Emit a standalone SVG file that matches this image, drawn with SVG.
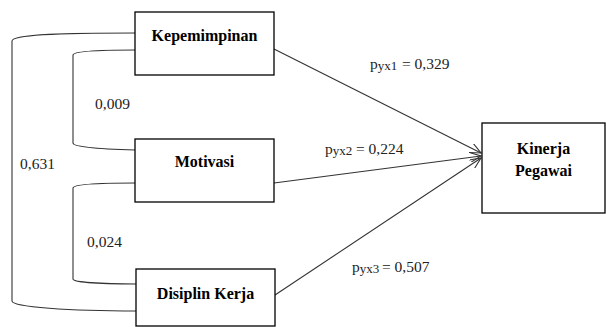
<svg xmlns="http://www.w3.org/2000/svg" width="606" height="327" viewBox="0 0 606 327">
<style>
.box{fill:#fff;stroke:#000;stroke-width:1.3}
text{font-family:'Liberation Serif','Times New Roman','DejaVu Serif',serif}
.lbl{font-size:16px;font-weight:bold;fill:#000;text-anchor:middle}
.num{font-size:15.5px;fill:#222}
.sub{font-size:13px}
.conn{fill:none;stroke:#333;stroke-width:1.1}
</style>
<defs>
<marker id="arr" markerWidth="12" markerHeight="10" refX="11" refY="5" orient="auto" markerUnits="userSpaceOnUse">
<path d="M0,0 L11,5 L0,10" fill="none" stroke="#333" stroke-width="1.1"/>
</marker>
</defs>
<rect width="606" height="327" fill="#fff"/>
<g id="connectors">
<path class="conn" d="M135,33 C70,33 12,34 12,41 L12,301 C12,307 70,311 136,311"/>
<path class="conn" d="M135,50 C100,50 73,51 73,55 L73,143 C73,147 100,149 135,150"/>
<path class="conn" d="M135,183 C100,183 73,184 73,188 L73,279 C73,282 100,284 136,284"/>
<line class="conn" x1="274" y1="49" x2="481" y2="153" marker-end="url(#arr)"/>
<line class="conn" x1="274" y1="183" x2="481" y2="156" marker-end="url(#arr)"/>
<line class="conn" x1="275" y1="295" x2="481" y2="158" marker-end="url(#arr)"/>
<text class="num" font-family="Liberation Serif, serif" x="95" y="109">0,009</text>
<text class="num" font-family="Liberation Serif, serif" x="20" y="169">0,631</text>
<text class="num" font-family="Liberation Serif, serif" x="87" y="247">0,024</text>
<text class="num" font-family="Liberation Serif, serif" x="370" y="69">p<tspan class="sub" dy="1">yx1</tspan><tspan x="402" dy="-1">= 0,329</tspan></text>
<text class="num" font-family="Liberation Serif, serif" x="325" y="154">p<tspan class="sub" dy="1">yx2</tspan><tspan x="356" dy="-1">= 0,224</tspan></text>
<text class="num" font-family="Liberation Serif, serif" x="352" y="272">p<tspan class="sub" dy="1">yx3</tspan><tspan x="382" dy="-1">= 0,507</tspan></text>
</g>
<g id="kepemimpinan">
<rect class="box" x="135" y="12" width="139" height="63"/>
<text class="lbl" font-family="Liberation Serif, serif" x="204.5" y="41">Kepemimpinan</text>
</g>
<g id="motivasi">
<rect class="box" x="135" y="139" width="139" height="63"/>
<text class="lbl" font-family="Liberation Serif, serif" x="204.5" y="167">Motivasi</text>
</g>
<g id="disiplin">
<rect class="box" x="136" y="269" width="139" height="57"/>
<text class="lbl" font-family="Liberation Serif, serif" x="205.5" y="299">Disiplin Kerja</text>
</g>
<g id="kinerja">
<rect class="box" x="482" y="123" width="123" height="90"/>
<text class="lbl" font-family="Liberation Serif, serif" x="543.5" y="154">Kinerja</text>
<text class="lbl" font-family="Liberation Serif, serif" x="543.5" y="176">Pegawai</text>
</g>
</svg>
